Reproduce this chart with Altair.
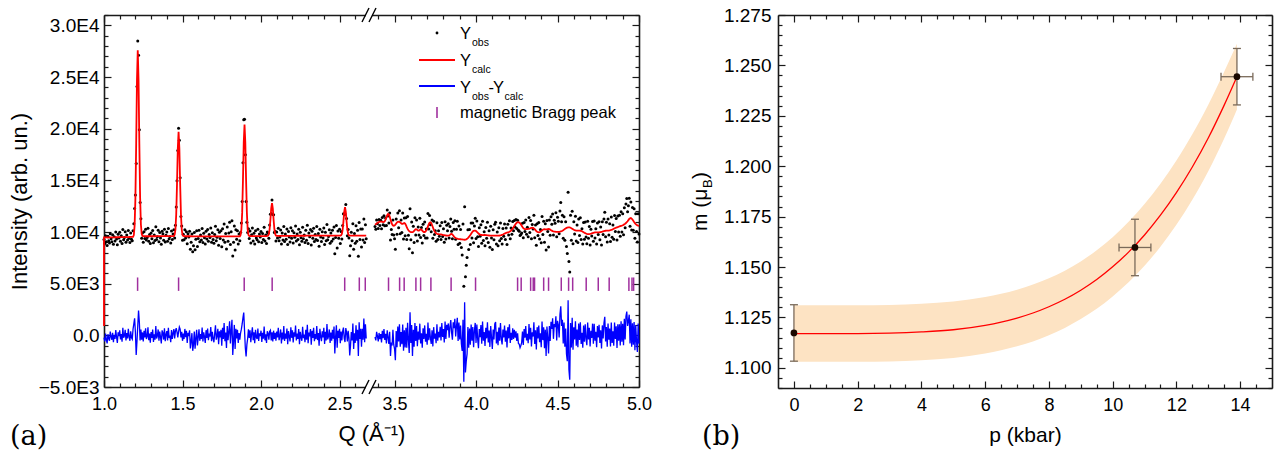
import altair as alt
import pandas as pd

FONT = "Liberation Sans"
SERIF = "DejaVu Serif"
DOM = "#1a1a1a"
PURPLE = "#a0309e"
EBAR = "#7a6a5a"

# ---------------- panel (a) data ----------------
Q_LEFT_START = 1.000
Q_RIGHT_START = 3.380
Q_STEP = 0.005

calc_left = [
    9480, 9480, 9475, 9475, 9470, 9470, 9470, 9475, 9475, 9480,
    9480, 9480, 9485, 9485, 9485, 9490, 9490, 9490, 9490, 9495,
    9495, 9495, 9500, 9500, 9500, 9500, 9505, 9505, 9505, 9510,
    9510, 9510, 9515, 9515, 9520, 9520, 9525, 9525, 9710, 10620,
    13280, 18530, 24680, 27580, 24700, 18600, 13360, 10720, 9820, 9620,
    9600, 9595, 9590, 9590, 9590, 9590, 9590, 9590, 9590, 9590,
    9590, 9590, 9590, 9590, 9590, 9590, 9590, 9595, 9595, 9595,
    9595, 9595, 9595, 9595, 9600, 9600, 9600, 9600, 9600, 9600,
    9600, 9600, 9600, 9600, 9600, 9600, 9605, 9605, 9605, 9610,
    9730, 10240, 11720, 14650, 18080, 19700, 18080, 14650, 11720, 10240,
    9730, 9620, 9600, 9595, 9590, 9590, 9590, 9590, 9590, 9590,
    9590, 9590, 9585, 9585, 9585, 9585, 9585, 9585, 9585, 9585,
    9585, 9585, 9585, 9580, 9580, 9580, 9580, 9580, 9580, 9580,
    9580, 9580, 9580, 9580, 9580, 9580, 9580, 9580, 9580, 9580,
    9580, 9580, 9580, 9580, 9580, 9580, 9580, 9580, 9580, 9580,
    9580, 9580, 9580, 9580, 9580, 9580, 9580, 9580, 9580, 9580,
    9580, 9580, 9580, 9580, 9580, 9580, 9580, 9580, 9580, 9580,
    9580, 9580, 9580, 9585, 9720, 10260, 11850, 14990, 18670, 20400,
    18670, 14990, 11850, 10260, 9720, 9610, 9600, 9600, 9600, 9600,
    9600, 9600, 9600, 9600, 9600, 9600, 9600, 9600, 9600, 9600,
    9605, 9605, 9605, 9605, 9610, 9610, 9610, 9610, 9615, 9660,
    9820, 10290, 11210, 12290, 12800, 12290, 11210, 10290, 9820, 9660,
    9630, 9625, 9625, 9625, 9625, 9625, 9625, 9625, 9625, 9625,
    9625, 9625, 9630, 9630, 9630, 9630, 9630, 9630, 9630, 9630,
    9630, 9630, 9630, 9630, 9630, 9635, 9635, 9635, 9635, 9635,
    9635, 9635, 9635, 9635, 9635, 9635, 9635, 9640, 9640, 9640,
    9640, 9640, 9640, 9640, 9640, 9640, 9640, 9640, 9640, 9640,
    9640, 9640, 9640, 9640, 9640, 9640, 9640, 9640, 9640, 9640,
    9640, 9640, 9640, 9640, 9640, 9640, 9640, 9640, 9640, 9640,
    9640, 9640, 9640, 9640, 9640, 9640, 9640, 9640, 9640, 9640,
    9640, 9640, 9680, 9810, 10220, 11020, 11960, 12400, 11960, 11020,
    10220, 9810, 9680, 9650, 9645, 9645, 9645, 9645, 9645, 9645,
    9645, 9645, 9645, 9645, 9645, 9645, 9645, 9650, 9650, 9650,
    9650, 9650, 9650, 9650, 9650,
]

diff_left = [
    -210, -590, 170, -420, -780, 110, -310, -530, 360, -130,
    -430, 250, -670, 60, -350, 500, -170, -730, 290, -80,
    480, -390, 130, -620, 730, -240, -40, 530, -490, 210,
    -290, 640, -130, -530, 390, -210, -360, 600, 1100, 1650,
    300, -1900, -600, 900, 2400, 1300, -500, 560, -420, 280,
    -590, 430, -210, 670, -360, -130, 780, -480, 170, -710,
    320, -240, 550, -630, 110, -420, 910, -310, -60, 570,
    -530, 360, -170, -780, 480, 240, -410, 670, -570, 80,
    410, -490, 740, -250, -30, -660, 500, -340, 210, 600,
    -300, 420, 700, 300, -200, 350, 800, 600, -210, 350,
    -530, 170, -360, 620, -170, 430, -730, 250, -80, 490,
    -1260, -590, 210, -1500, -910, 360, -1300, -280, 530, -980,
    -210, 590, -530, 130, -360, 760, -600, 290, -130, -730,
    500, -250, 660, -480, 170, -110, 810, -570, 350, -310,
    -670, 180, 970, -420, -80, 630, -870, 390, -210, 530,
    -1000, 730, -360, 1200, -570, 270, -1230, 900, -480, 320,
    1370, -780, 450, 1500, -1900, -560, 1010, -1330, 640, -290,
    530, -730, 220, -420, 250, 600, 1100, 1700, 2200, 500,
    -1200, -2050, -900, -300, 590, -250, 490, -660, 130, 780,
    -460, 290, -760, 530, -170, -360, 660, -550, 200, -80,
    450, -630, 250, -320, 850, -480, 100, -730, 390, 210,
    -420, 380, 500, -500, 300, -600, 450, -350, 250, -530,
    360, -200, 730, -460, -100, 570, -780, 270, -390, 900,
    -550, 170, -320, 660, -850, 420, -110, -590, 780, -240,
    480, -700, 290, -130, 950, -500, 180, -350, 620, -870,
    350, -200, -530, 830, -280, 80, -660, 530, -430, 1010,
    -760, 270, -100, 600, -910, 430, -250, 730, -560, 130,
    -360, 900, -460, 220, -1010, 630, -130, -570, 390, -210,
    740, -840, 340, -490, 1090, -390, -80, 570, -730, 270,
    -530, 530, -320, 850, -1750, -170, 980, -1200, 450, -240,
    630, -760, 360, -490, 400, 750, -300, -650, 700, 280,
    -590, 430, -250, -1950, -980, 320, -500, 1150, -1320, 210,
    -730, 970, -530, 530, -2000, 1270, -360, 630, -1100, 640,
    -420, 1620, -670, 1060, -310,
]

calc_right = [
    10700, 10760, 10820, 10880, 10930, 10970, 11000, 11010, 11000, 10980,
    10960, 10980, 11050, 11200, 11420, 11630, 11750, 11700, 11500, 11220,
    10950, 10750, 10640, 10610, 10640, 10720, 10830, 10930, 10990, 11010,
    10990, 10920, 10840, 10790, 10790, 10830, 10860, 10810, 10660, 10470,
    10300, 10170, 10080, 10020, 9990, 9980, 9990, 10030, 10100, 10200,
    10270, 10260, 10190, 10130, 10130, 10200, 10260, 10230, 10140, 10050,
    10000, 10000, 10050, 10160, 10330, 10540, 10760, 10910, 10940, 10860,
    10680, 10460, 10250, 10080, 9960, 9880, 9830, 9800, 9790, 9780,
    9770, 9760, 9740, 9720, 9700, 9690, 9670, 9660, 9650, 9640,
    9640, 9660, 9720, 9790, 9810, 9760, 9660, 9560, 9480, 9420,
    9380, 9350, 9330, 9320, 9310, 9300, 9290, 9280, 9270, 9260,
    9250, 9260, 9290, 9340, 9410, 9500, 9600, 9710, 9830, 9950,
    10050, 10110, 10140, 10130, 10090, 10010, 9930, 9850, 9790, 9750,
    9720, 9710, 9700, 9700, 9710, 9710, 9700, 9690, 9680, 9670,
    9660, 9650, 9650, 9640, 9640, 9640, 9640, 9640, 9640, 9640,
    9640, 9640, 9650, 9660, 9680, 9700, 9730, 9760, 9800, 9840,
    9880, 9920, 9950, 9970, 9990, 10020, 10070, 10140, 10230, 10340,
    10460, 10590, 10710, 10820, 10900, 10940, 10950, 10920, 10850, 10740,
    10610, 10480, 10380, 10310, 10280, 10270, 10280, 10290, 10300, 10310,
    10340, 10380, 10410, 10420, 10400, 10350, 10270, 10180, 10090, 10020,
    9980, 9970, 9990, 10030, 10090, 10160, 10220, 10260, 10270, 10260,
    10250, 10260, 10280, 10290, 10270, 10230, 10180, 10130, 10090, 10060,
    10040, 10030, 10020, 10020, 10020, 10020, 10020, 10030, 10050, 10080,
    10120, 10170, 10230, 10290, 10350, 10400, 10430, 10450, 10450, 10440,
    10410, 10370, 10320, 10270, 10220, 10190, 10160, 10140, 10130, 10130,
    10130, 10130, 10120, 10100, 10070, 10030, 9980, 9930, 9890, 9850,
    9820, 9800, 9800, 9800, 9810, 9830, 9860, 9890, 9920, 9940,
    9960, 9970, 9970, 9970, 9970, 9970, 9980, 9990, 10010, 10030,
    10060, 10080, 10100, 10120, 10130, 10130, 10130, 10140, 10150, 10170,
    10200, 10230, 10270, 10310, 10350, 10390, 10420, 10450, 10480, 10510,
    10540, 10570, 10600, 10620, 10650, 10690, 10740, 10800, 10870, 10950,
    11040, 11150, 11260, 11330, 11350, 11300, 11200, 11080, 10960, 10850,
    10760, 10690, 10640, 10610, 10600,
]

diff_right = [
    -160, -490, 330, -80, -590, 230, -380, 120, -680, 430,
    -270, 600, -440, 160, -780, 490, -200, -820, 340, -2000,
    -700, -980, 530, -910, -1300, -2400, 420, -1140, 850, -590,
    1070, -1100, 310, -850, 1050, -1500, 490, -1170, 730, -1200,
    1210, -490, -1700, 2230, -730, 990, -2000, 530, -1110, 1180,
    -550, 900, -1050, 360, -430, 1130, -790, 200, -1200, 690,
    -340, 960, -620, 140, -910, 1240, -470, 680, -230, -830,
    490, -1070, 790, -310, 170, -770, 1070, -530, 340, -200,
    830, -490, 1180, -160, 610, -690, 1330, -340, 1010, 490,
    1150, -230, 810, 1480, 270, -420, 1260, 700, 1600, -120,
    880, 1700, -550, 1250, -390, 950, -800, -1500, 1500, -4500,
    3200, -3600, -2500, -1800, 800, -1200, 650, -910, 1050, -520,
    810, -1140, 440, 1200, -730, 1050, -380, -1250, 610, -170,
    990, -810, 1340, -530, 310, -1030, 730, -290, 1270, -690,
    460, -1120, 900, -220, -1330, 570, -390, 1110, 1300, -790,
    350, -960, 750, -510, 1180, -340, -880, 570, -200, 940,
    -610, 470, -1170, 790, -290, 1080, -730, 250, -440, 680,
    -340, 530, -230, 390, -550, 200, -790, -850, -1200, -980,
    -700, 360, -940, 600, -220, 900, -490, 160, -770, 1090,
    -400, 730, -1070, 300, -120, 1260, -830, 490, -1370, 790,
    -310, 950, -660, 210, -1140, 1330, -460, 770, -1250, 550,
    -2000, 850, -230, -1750, 900, -550, 1300, 620, 1650, -340,
    1100, 810, 1850, -490, 1400, 1010, -200, 2000, 2800, 900,
    1500, -780, 1250, -1100, 650, -1800, -2500, 3400, -3300, -4300,
    1200, -1170, 1700, -1400, 780, -390, 1370, -1010, 550, -1150,
    1140, -460, 1260, -830, 250, -1200, 950, -620, 1080, -340,
    -950, 1240, -400, 730, -1080, 440, -250, 1130, -810, 1120,
    -530, 340, -1140, 900, -200, 1030, -730, 490, -1260, 960,
    -310, 1180, 1800, -590, 810, -1100, 1140, -420, 660, -1080,
    1240, -730, 400, -1010, 1240, -350, 880, -1220, 1060, -510,
    1070, -990, 1350, -620, 1120, -950, 1600, -390, 1850, 2300,
    910, 1400, 2000, -780, 1550, -1100, 1170, -910, 1300, -1450,
    1000, -650, -1600, 1150, -800,
]

calc_edge_value = [900]   # red curve drop along the left frame at Q = 1.0

bragg_q = [1.214, 1.475, 1.893, 2.071, 2.533, 2.626, 2.664,
           3.463, 3.531, 3.559, 3.631, 3.660, 3.723, 3.847, 3.997,
           4.255, 4.277, 4.335, 4.351, 4.359, 4.415, 4.445, 4.523,
           4.568, 4.593, 4.676, 4.750, 4.817, 4.938, 4.957, 4.967]
bragg_lo = [4300]
bragg_hi = [5600]

xa_major = [1.0, 1.5, 2.0, 2.5, 3.5, 4.0, 4.5, 5.0]
ya_major = [-5000, 0, 5000, 10000, 15000, 20000, 25000, 30000]

# ---------------- panel (b) data ----------------
p_fit = [0, 1, 2, 3, 4, 5, 6, 6.5, 7, 7.5, 8, 8.5, 9, 9.5, 10, 10.5,
         11, 11.5, 12, 12.5, 13, 13.5, 13.9]
m_fit = [1.1170, 1.1170, 1.1170, 1.1172, 1.1178, 1.1189, 1.1211, 1.1227,
         1.1247, 1.1272, 1.1303, 1.1340, 1.1385, 1.1438, 1.1501, 1.1574,
         1.1659, 1.1757, 1.1869, 1.1996, 1.2140, 1.2303, 1.2444]
lo_fit = [1.1030, 1.1030, 1.1030, 1.1032, 1.1038, 1.1049, 1.1071, 1.1087,
          1.1107, 1.1131, 1.1162, 1.1198, 1.1242, 1.1293, 1.1354, 1.1424,
          1.1506, 1.1601, 1.1710, 1.1834, 1.1975, 1.2137, 1.2281]
hi_fit = [1.1310, 1.1310, 1.1310, 1.1312, 1.1318, 1.1329, 1.1351, 1.1367,
          1.1387, 1.1413, 1.1444, 1.1482, 1.1528, 1.1583, 1.1648, 1.1724,
          1.1812, 1.1913, 1.2028, 1.2158, 1.2305, 1.2469, 1.2607]

p_pts = [0.0, 10.7, 13.9]
m_pts = [1.1173, 1.1597, 1.2444]
m_err = [0.014, 0.014, 0.014]
p_err = [0.0, 0.5, 0.5]

xb_major = [0, 2, 4, 6, 8, 10, 12, 14]
yb_major = [1.100, 1.125, 1.150, 1.175, 1.200, 1.225, 1.250, 1.275]

# ---------------- tables ----------------
def seg_frame(start, calc, diff, seg):
    q = [round(start + Q_STEP * i, 3) for i in range(len(calc))]
    return pd.DataFrame({"Q": q, "calc": calc, "diff": diff,
                         "obs": [c + d for c, d in zip(calc, diff)],
                         "seg": seg, "ord": list(range(len(calc)))})

df_a = pd.concat([seg_frame(Q_LEFT_START, calc_left, diff_left, "a"),
                  seg_frame(Q_RIGHT_START, calc_right, diff_right, "b")],
                 ignore_index=True)
df_calc = pd.concat([pd.DataFrame({"Q": [Q_LEFT_START], "calc": calc_edge_value,
                                   "seg": ["a"], "ord": [-1]}),
                     df_a[["Q", "calc", "seg", "ord"]]], ignore_index=True)
df_bragg = pd.DataFrame({"Q": bragg_q, "lo": bragg_lo * len(bragg_q),
                         "hi": bragg_hi * len(bragg_q)})

df_fit = pd.DataFrame({"p": p_fit, "m": m_fit, "lo": lo_fit, "hi": hi_fit})
df_pts = pd.DataFrame({"p": p_pts, "m": m_pts, "merr": m_err, "perr": p_err})
df_pts["mlo"] = df_pts["m"] - df_pts["merr"]
df_pts["mhi"] = df_pts["m"] + df_pts["merr"]
df_pts["plo"] = df_pts["p"] - df_pts["perr"]
df_pts["phi"] = df_pts["p"] + df_pts["perr"]
df_vcap = pd.DataFrame({"p": list(df_pts["p"]) * 2,
                        "y": list(df_pts["mlo"]) + list(df_pts["mhi"])})
df_hb = df_pts[df_pts["perr"] > 0]
df_hcap = pd.DataFrame({"x": list(df_hb["plo"]) + list(df_hb["phi"]),
                        "m": list(df_hb["m"]) * 2})

# tick lists
xa_minor = [round(1.0 + 0.1 * k, 1) for k in range(1, 17)] + \
           [round(3.4 + 0.1 * k, 1) for k in range(0, 16)]
xa_minor = [v for v in xa_minor if v not in xa_major]
ya_minor = [-5000 + 1000 * k for k in range(0, 37) if (k % 5) != 0]
xb_minor = [k * 0.5 for k in range(1, 30) if k % 4 != 0]
yb_minor = [round(1.09 + 0.005 * k, 3) for k in range(0, 38)]
yb_minor = [v for v in yb_minor if round(v, 3) not in [round(u, 3) for u in yb_major]]

# ---------------- helpers ----------------
def ax_main(orient, values, title=None, labels=True, fmt=None, expr=None,
            label_pad=6, title_pad=8, title_size=22, label_size=18):
    kw = dict(orient=orient, values=values, grid=False, ticks=False, tickSize=0,
              domain=True, domainColor=DOM, domainWidth=1.6, labels=labels,
              labelFont=FONT, labelFontSize=label_size, labelColor="black",
              labelPadding=label_pad, labelFlush=False, labelOverlap=False,
              titleFont=FONT, titleFontSize=title_size, titleFontWeight="normal",
              titleColor="black", titlePadding=title_pad, zindex=0, title=title)
    if fmt:
        kw["format"] = fmt
    if expr:
        kw["labelExpr"] = expr
    return alt.Axis(**kw)


def ax_ticks(orient, values, size):
    return alt.Axis(orient=orient, values=values, grid=False, ticks=True,
                    tickSize=size, offset=-size, tickColor=DOM, tickWidth=1.2,
                    domain=False, labels=False, title=None, zindex=0)


def axis_layers(xs, ys, x0, y0, xaxes, yaxes):
    d = pd.DataFrame({"ax": [x0], "ay": [y0]})
    return [alt.Chart(d).mark_point(opacity=0, size=1).encode(
        x=alt.X("ax:Q", scale=xs, axis=xa), y=alt.Y("ay:Q", scale=ys, axis=ya))
        for xa, ya in zip(xaxes, yaxes)]


ONE = pd.DataFrame({"k": [0]})


def txt(s, x, y, size, font=FONT, align="left", baseline="alphabetic", angle=0):
    kw = dict(text=s, font=font, fontSize=size, align=align, baseline=baseline,
              color="black")
    if angle:
        kw["angle"] = angle
    return alt.Chart(ONE).mark_text(**kw).encode(x=alt.value(x), y=alt.value(y))


def hrule(x1, x2, y, color, w=2):
    return alt.Chart(ONE).mark_rule(color=color, strokeWidth=w).encode(
        x=alt.value(x1), x2=alt.value(x2), y=alt.value(y))


def seg_line(x1, y1, x2, y2, color="black", w=1.4):
    return alt.Chart(ONE).mark_rule(color=color, strokeWidth=w).encode(
        x=alt.value(x1), x2=alt.value(x2), y=alt.value(y1), y2=alt.value(y2))


def white_box(x1, x2, y1, y2):
    return alt.Chart(ONE).mark_rect(color="white").encode(
        x=alt.value(x1), x2=alt.value(x2), y=alt.value(y1), y2=alt.value(y2))

# ---------------- panel (a) ----------------
WA, HA = 535, 372
xs_a = alt.Scale(domain=[1.0, 2.675, 3.38, 5.0], range=[0, 263, 271, WA],
                 nice=False, zero=False)
ys_a = alt.Scale(domain=[-5000, 31000], nice=False, zero=False)

sci_expr = ("datum.value == 0 ? '0.0' : format(datum.value / pow(10, floor(log(abs(datum.value)) / LN10 + 1e-9)), '.1f')"
            " + 'E' + floor(log(abs(datum.value)) / LN10 + 1e-9)")

axes_a = axis_layers(
    xs_a, ys_a, 2.0, 0,
    [ax_main("bottom", xa_major, title="Q (Å⁻¹)", fmt=".1f", label_pad=8, title_pad=10),
     ax_ticks("bottom", xa_major, 7), ax_ticks("bottom", xa_minor, 4),
     ax_main("top", xa_major, labels=False),
     ax_ticks("top", xa_major, 7), ax_ticks("top", xa_minor, 4)],
    [ax_main("left", ya_major, title="Intensity (arb. un.)", expr=sci_expr,
             label_pad=5, title_pad=7, label_size=19),
     ax_ticks("left", ya_major, 7), ax_ticks("left", ya_minor, 4),
     ax_main("right", ya_major, labels=False),
     ax_ticks("right", ya_major, 7), ax_ticks("right", ya_minor, 4)])

X_A = alt.X("Q:Q", scale=xs_a, axis=None)
obs_layer = alt.Chart(df_a).mark_circle(size=9, color="black", opacity=1).encode(
    x=X_A, y=alt.Y("obs:Q", scale=ys_a, axis=None))
calc_layer = alt.Chart(df_calc).mark_line(color="#ff0000", strokeWidth=1.8).encode(
    x=X_A, y=alt.Y("calc:Q", scale=ys_a, axis=None), detail="seg:N", order="ord:Q")
diff_layer = alt.Chart(df_a).mark_line(color="#0000ff", strokeWidth=1.3).encode(
    x=X_A, y=alt.Y("diff:Q", scale=ys_a, axis=None), detail="seg:N", order="ord:Q")
bragg_layer = alt.Chart(df_bragg).mark_rule(color=PURPLE, strokeWidth=1.5).encode(
    x=X_A, y=alt.Y("lo:Q", scale=ys_a, axis=None), y2="hi:Q")

legend_a = [
    alt.Chart(ONE).mark_circle(size=8, color="black", opacity=1).encode(
        x=alt.value(333), y=alt.value(18)),
    txt("Y", 356, 24, 16.5), txt("obs", 368, 31, 10.5),
    hrule(315, 351, 45, "#ff0000"),
    txt("Y", 356, 51, 16.5), txt("calc", 368, 58, 10.5),
    hrule(315, 351, 71, "#0000ff"),
    txt("Y", 356, 78, 16.5), txt("obs", 368, 85, 10.5), txt("-", 384.5, 78, 16.5),
    txt("Y", 389, 78, 16.5), txt("calc", 400.5, 85, 10.5),
    seg_line(333, 92, 333, 103, PURPLE, 1.6),
    txt("magnetic Bragg peak", 356, 103, 16.5),
    txt("(a)", -94, 422, 27, font=SERIF, baseline="middle"),
]

breaks = [
    white_box(262, 268, -3, 3), white_box(262, 268, HA - 3, HA + 3),
    seg_line(258, 7, 265, -7), seg_line(265, 7, 272, -7),
    seg_line(258, HA + 7, 265, HA - 7), seg_line(265, HA + 7, 272, HA - 7),
]

panel_a = alt.layer(*axes_a, obs_layer, calc_layer, diff_layer, bragg_layer,
                    *legend_a, *breaks).resolve_axis(
    x="independent", y="independent").properties(width=WA, height=HA)

# ---------------- panel (b) ----------------
WB, HB = 494, 373
xs_b = alt.Scale(domain=[-0.5, 15], nice=False, zero=False)
ys_b = alt.Scale(domain=[1.09, 1.275], nice=False, zero=False)

axes_b = axis_layers(
    xs_b, ys_b, 5, 1.2,
    [ax_main("bottom", xb_major, title="p (kbar)", fmt="d", label_pad=8, title_pad=10,
             title_size=21),
     ax_ticks("bottom", xb_major, 7), ax_ticks("bottom", xb_minor, 4),
     ax_main("top", xb_major, labels=False),
     ax_ticks("top", xb_major, 7), ax_ticks("top", xb_minor, 4)],
    [ax_main("left", yb_major, fmt=".3f", label_pad=7, label_size=19),
     ax_ticks("left", yb_major, 7), ax_ticks("left", yb_minor, 4),
     ax_main("right", yb_major, labels=False),
     ax_ticks("right", yb_major, 7), ax_ticks("right", yb_minor, 4)])

X_B = alt.X("p:Q", scale=xs_b, axis=None)
band = alt.Chart(df_fit).mark_area(color="#fde3c3", opacity=1, interpolate="monotone").encode(
    x=X_B, y=alt.Y("lo:Q", scale=ys_b, axis=None), y2="hi:Q")
curve = alt.Chart(df_fit).mark_line(color="#ff0000", strokeWidth=1.3, interpolate="monotone").encode(
    x=X_B, y=alt.Y("m:Q", scale=ys_b, axis=None))
vbar = alt.Chart(df_pts).mark_rule(color=EBAR, strokeWidth=1.3).encode(
    x=X_B, y=alt.Y("mlo:Q", scale=ys_b, axis=None), y2="mhi:Q")
vcap = alt.Chart(df_vcap).mark_tick(orient="horizontal", size=8, thickness=1.3,
                                    color=EBAR, opacity=1).encode(
    x=X_B, y=alt.Y("y:Q", scale=ys_b, axis=None))
hbar = alt.Chart(df_hb).mark_rule(color=EBAR, strokeWidth=1.3).encode(
    x=alt.X("plo:Q", scale=xs_b, axis=None), x2="phi:Q",
    y=alt.Y("m:Q", scale=ys_b, axis=None))
hcap = alt.Chart(df_hcap).mark_tick(orient="vertical", size=8, thickness=1.3,
                                    color=EBAR, opacity=1).encode(
    x=alt.X("x:Q", scale=xs_b, axis=None), y=alt.Y("m:Q", scale=ys_b, axis=None))
pts = alt.Chart(df_pts).mark_circle(size=45, color="#1a0800", opacity=1).encode(
    x=X_B, y=alt.Y("m:Q", scale=ys_b, axis=None))

labels_b = [
    txt("m (μ", -71, 216, 21, angle=270),
    txt("B", -66, 173, 13, angle=270),
    txt(")", -71, 164, 21, angle=270),
    txt("(b)", -76, 422, 27, font=SERIF, baseline="middle"),
]

panel_b = alt.layer(*axes_b, band, curve, vbar, vcap, hbar, hcap, pts,
                    *labels_b).resolve_axis(
    x="independent", y="independent").properties(width=WB, height=HB)

chart = alt.hconcat(panel_a, panel_b, spacing=139, bounds="flush").properties(
    padding={"left": 8, "top": 6, "right": 2, "bottom": 0}
).configure_view(stroke=None).configure_axis(grid=False)

chart.save("out.html", embed_options={"renderer": "svg", "actions": False})
